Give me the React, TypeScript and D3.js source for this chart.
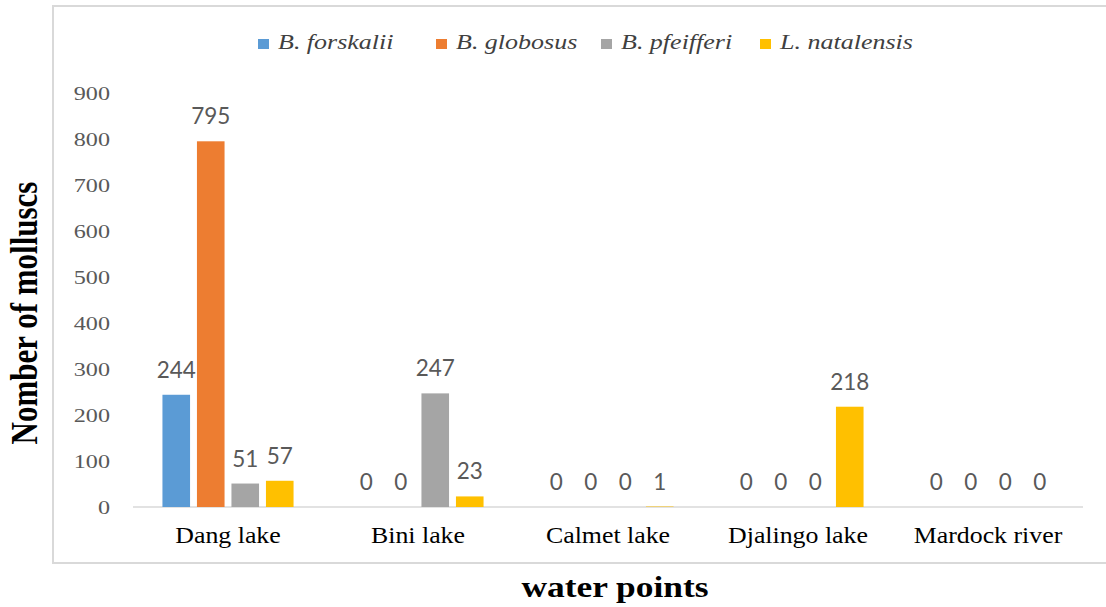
import React from "react";
import * as d3 from "d3";

const categories = ["Dang lake", "Bini lake", "Calmet lake", "Djalingo lake", "Mardock river"];
const seriesNames = ["B. forskalii", "B. globosus", "B. pfeifferi", "L. natalensis"];
const forskalii = [244, 0, 0, 0, 0];
const globosus = [795, 0, 0, 0, 0];
const pfeifferi = [51, 247, 0, 0, 0];
const natalensis = [57, 23, 1, 218, 0];
const yTicks = [0, 100, 200, 300, 400, 500, 600, 700, 800, 900];

const seriesValues = [forskalii, globosus, pfeifferi, natalensis];
const colors = ["#5B9BD5", "#ED7D31", "#A5A5A5", "#FFC000"];

const W = 1106;
const H = 607;
const left = 133;
const right = 1083;
const top = 93;
const bottom = 507;
const serif = "'Liberation Serif', 'Times New Roman', serif";
const legendX = [258, 436, 601, 760];

export default function App() {
  const x0 = d3.scaleBand<string>().domain(categories).range([left, right]).paddingInner(0.31).paddingOuter(0.155);
  const x1 = d3.scaleBand<string>().domain(seriesNames).range([0, x0.bandwidth()]).paddingInner(0.2).paddingOuter(0);
  const y = d3.scaleLinear().domain([0, 900]).range([bottom, top]);

  return (
    <svg width={W} height={H} style={{ position: "absolute", left: 0, top: 0, background: "#fff" }}>
      {/* frame */}
      <line x1={53} y1={6} x2={53} y2={563} stroke="#d9d9d9" strokeWidth={2} />
      <line x1={52} y1={6} x2={W} y2={6} stroke="#d9d9d9" strokeWidth={2} />
      <line x1={52} y1={563} x2={W} y2={563} stroke="#d9d9d9" strokeWidth={2} />

      {/* legend */}
      {seriesNames.map((s, i) => (
        <g key={s}>
          <rect x={legendX[i]} y={39} width={11} height={10} fill={colors[i]} />
          <text
            transform={`translate(${legendX[i] + 20},49) scale(1.3,1)`}
            fontFamily={serif}
            fontStyle="italic"
            fontSize={20}
            fill="#404040"
          >
            {s}
          </text>
        </g>
      ))}

      {/* y ticks */}
      {yTicks.map((t) => (
        <text
          key={t}
          transform={`translate(110,${y(t)}) scale(1.24,1)`}
          dy="0.35em"
          textAnchor="end"
          fontFamily={serif}
          fontSize={19.5}
          fill="#595959"
        >
          {t}
        </text>
      ))}

      {/* baseline */}
      <line x1={left} x2={right} y1={y(0)} y2={y(0)} stroke="#d9d9d9" strokeWidth={1.5} />

      {/* bars */}
      {categories.map((c, ci) => (
        <g key={c} transform={`translate(${x0(c)},0)`}>
          {seriesNames.map((s, si) => {
            const v = seriesValues[si][ci];
            const bx = x1(s)!;
            return (
              <g key={s}>
                {v > 0 && (
                  <rect x={bx} y={y(v)} width={x1.bandwidth()} height={y(0) - y(v)} fill={colors[si]} />
                )}
                <text
                  x={bx + x1.bandwidth() / 2}
                  y={y(v) - 17}
                  textAnchor="middle"
                  fontFamily="Lato, 'Open Sans', sans-serif"
                  fontSize={22.5}
                  fill="#595959"
                >
                  {v}
                </text>
              </g>
            );
          })}
        </g>
      ))}

      {/* category labels */}
      {categories.map((c) => (
        <text
          key={c}
          transform={`translate(${x0(c)! + x0.bandwidth() / 2},543) scale(1.1,1)`}
          textAnchor="middle"
          fontFamily={serif}
          fontSize={23.5}
          fill="#000"
        >
          {c}
        </text>
      ))}

      {/* axis titles */}
      <text
        transform={`translate(615,597) scale(1.18,1)`}
        textAnchor="middle"
        fontFamily={serif}
        fontWeight="bold"
        fontSize={30}
        fill="#000"
      >
        water points
      </text>
      <text
        transform={`translate(37,313) rotate(-90) scale(1,1.2)`}
        textAnchor="middle"
        fontFamily={serif}
        fontWeight="bold"
        fontSize={31}
        fill="#000"
      >
        Nomber of molluscs
      </text>
    </svg>
  );
}
